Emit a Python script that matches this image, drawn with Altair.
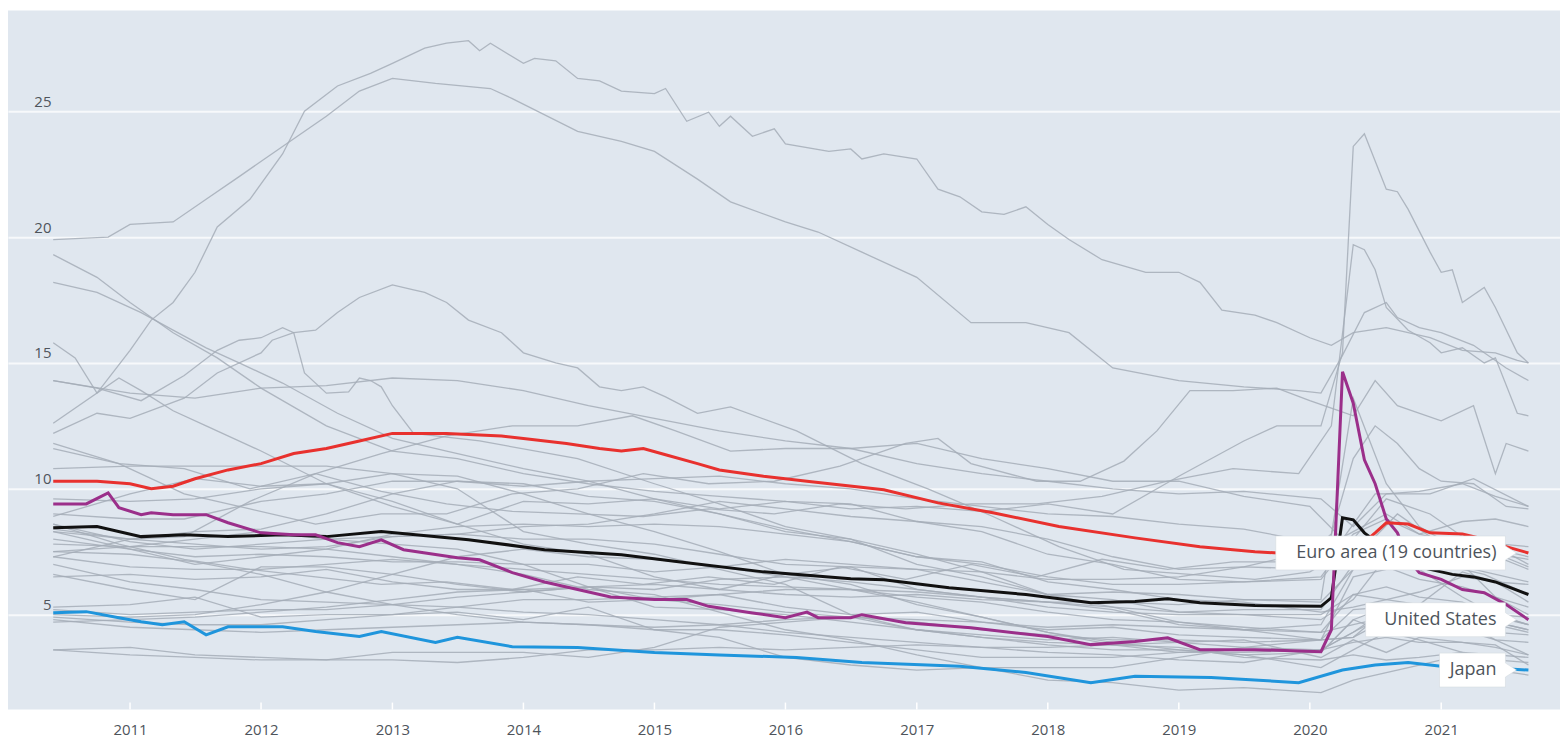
import altair as alt
import pandas as pd

# ---------------- data ----------------
YEARS = list(range(2011, 2022))
Y_TICKS = [5, 10, 15, 20, 25]

EURO = [("2010-06", 10.3), ("2010-10", 10.3), ("2011-01", 10.2), ("2011-03", 10.0), ("2011-05", 10.1),
        ("2011-07", 10.4), ("2011-10", 10.75), ("2012-01", 11.0), ("2012-04", 11.4), ("2012-07", 11.6),
        ("2012-10", 11.9), ("2013-01", 12.2), ("2013-06", 12.2), ("2013-11", 12.1), ("2014-01", 12.0),
        ("2014-05", 11.8), ("2014-08", 11.6), ("2014-10", 11.5), ("2014-12", 11.6), ("2015-02", 11.35),
        ("2015-05", 11.0), ("2015-07", 10.75), ("2015-11", 10.5), ("2016-03", 10.3), ("2016-10", 9.96),
        ("2017-03", 9.44), ("2017-08", 9.05), ("2018-02", 8.5), ("2018-09", 8.05), ("2019-03", 7.7),
        ("2019-08", 7.5), ("2019-12", 7.4), ("2020-03", 7.3), ("2020-05", 7.5), ("2020-07", 8.25),
        ("2020-08", 8.65), ("2020-10", 8.6), ("2020-12", 8.25), ("2021-03", 8.2), ("2021-05", 8.0),
        ("2021-07", 7.7), ("2021-09", 7.45)]

OECD = [("2010-06", 8.45), ("2010-10", 8.5), ("2011-02", 8.1), ("2011-06", 8.17), ("2011-10", 8.1),
        ("2012-03", 8.17), ("2012-07", 8.1), ("2012-12", 8.3), ("2013-08", 7.98), ("2014-03", 7.58),
        ("2014-10", 7.38), ("2015-04", 7.06), ("2015-11", 6.7), ("2016-07", 6.43), ("2016-10", 6.39),
        ("2017-04", 6.07), ("2017-11", 5.8), ("2018-05", 5.47), ("2018-09", 5.52), ("2018-12", 5.63),
        ("2019-03", 5.47), ("2019-08", 5.36), ("2020-02", 5.33), ("2020-03", 5.67), ("2020-04", 8.85),
        ("2020-05", 8.77), ("2020-06", 8.25), ("2020-08", 7.6), ("2020-10", 7.0), ("2020-12", 6.8),
        ("2021-02", 6.6), ("2021-04", 6.5), ("2021-06", 6.3), ("2021-09", 5.8)]

JAPAN = [("2010-06", 5.08), ("2010-09", 5.12), ("2010-12", 4.88), ("2011-02", 4.72), ("2011-04", 4.6),
         ("2011-06", 4.72), ("2011-08", 4.2), ("2011-10", 4.52), ("2012-03", 4.52), ("2012-06", 4.33),
         ("2012-10", 4.13), ("2012-12", 4.33), ("2013-05", 3.9), ("2013-07", 4.1), ("2013-12", 3.73),
         ("2014-06", 3.7), ("2015-01", 3.5), ("2015-07", 3.4), ("2016-02", 3.3), ("2016-08", 3.1),
         ("2017-05", 2.95), ("2017-11", 2.7), ("2018-05", 2.3), ("2018-09", 2.55), ("2019-04", 2.5),
         ("2019-12", 2.3), ("2020-04", 2.8), ("2020-07", 3.0), ("2020-10", 3.1), ("2021-01", 2.95),
         ("2021-05", 2.9), ("2021-09", 2.8)]

USA = [("2010-06", 9.4), ("2010-09", 9.4), ("2010-11", 9.84), ("2010-12", 9.25), ("2011-02", 8.97),
       ("2011-03", 9.05), ("2011-05", 8.97), ("2011-08", 8.97), ("2011-10", 8.65), ("2012-01", 8.25),
       ("2012-04", 8.17), ("2012-06", 8.17), ("2012-08", 7.86), ("2012-10", 7.7), ("2012-12", 7.97),
       ("2013-02", 7.58), ("2013-07", 7.26), ("2013-09", 7.18), ("2013-12", 6.67), ("2014-03", 6.3),
       ("2014-09", 5.7), ("2015-01", 5.6), ("2015-04", 5.6), ("2015-06", 5.33), ("2015-10", 5.07),
       ("2016-01", 4.88), ("2016-03", 5.1), ("2016-04", 4.88), ("2016-07", 4.88), ("2016-08", 5.0),
       ("2016-12", 4.68), ("2017-06", 4.48), ("2018-01", 4.13), ("2018-05", 3.81), ("2018-09", 3.93),
       ("2018-12", 4.08), ("2019-03", 3.61), ("2019-08", 3.61), ("2020-02", 3.53), ("2020-03", 4.4),
       ("2020-04", 14.65), ("2020-05", 13.4), ("2020-06", 11.15), ("2020-07", 10.2), ("2020-08", 8.8),
       ("2020-09", 8.25), ("2020-10", 7.2), ("2020-11", 6.67), ("2021-01", 6.4), ("2021-03", 6.0),
       ("2021-05", 5.87), ("2021-07", 5.4), ("2021-09", 4.8)]

# grey background series with their own dates
G_SPAIN = [("2010-06", 19.9), ("2010-11", 20.0), ("2011-01", 20.5), ("2011-05", 20.6), ("2011-08", 21.5),
           ("2011-11", 22.4), ("2012-03", 23.6), ("2012-07", 24.8), ("2012-10", 25.8), ("2013-01", 26.3),
           ("2013-05", 26.1), ("2013-10", 25.9), ("2013-12", 25.5), ("2014-06", 24.2), ("2014-10", 23.8),
           ("2015-01", 23.4), ("2015-05", 22.3), ("2015-08", 21.4), ("2016-01", 20.6), ("2016-04", 20.2),
           ("2016-08", 19.4), ("2017-01", 18.4), ("2017-06", 16.6), ("2017-11", 16.6), ("2018-03", 16.2),
           ("2018-07", 14.8), ("2019-01", 14.3), ("2019-07", 14.05), ("2019-12", 13.9), ("2020-02", 13.8),
           ("2020-04", 15.3), ("2020-06", 17.0), ("2020-08", 17.4), ("2020-09", 16.8), ("2020-11", 16.4),
           ("2021-01", 16.2), ("2021-04", 15.7), ("2021-07", 14.8), ("2021-09", 14.3)]

G_GREECE = [("2010-06", 12.6), ("2010-10", 13.8), ("2011-01", 15.5), ("2011-03", 16.7), ("2011-05", 17.4),
            ("2011-07", 18.6), ("2011-09", 20.4), ("2011-12", 21.5), ("2012-03", 23.3), ("2012-05", 25.0),
            ("2012-08", 26.0), ("2012-11", 26.5), ("2013-01", 26.9), ("2013-04", 27.5), ("2013-06", 27.7),
            ("2013-08", 27.8), ("2013-09", 27.4), ("2013-10", 27.7), ("2014-01", 26.9), ("2014-02", 27.1),
            ("2014-04", 27.0), ("2014-06", 26.3), ("2014-08", 26.2), ("2014-10", 25.8), ("2015-01", 25.7),
            ("2015-02", 25.9), ("2015-04", 24.6), ("2015-06", 24.96), ("2015-07", 24.4), ("2015-08", 24.8),
            ("2015-10", 24.0), ("2015-12", 24.3), ("2016-01", 23.7), ("2016-05", 23.4), ("2016-07", 23.5),
            ("2016-08", 23.1), ("2016-10", 23.3), ("2017-01", 23.1), ("2017-03", 21.9), ("2017-05", 21.6),
            ("2017-07", 21.0), ("2017-09", 20.9), ("2017-11", 21.2), ("2018-01", 20.5), ("2018-03", 19.9),
            ("2018-06", 19.1), ("2018-10", 18.6), ("2019-01", 18.6), ("2019-03", 18.2), ("2019-05", 17.1),
            ("2019-08", 16.9), ("2019-10", 16.6), ("2020-01", 16.0), ("2020-03", 15.7), ("2020-05", 16.2),
            ("2020-08", 16.4), ("2020-12", 16.0), ("2021-03", 15.5), ("2021-06", 15.4), ("2021-08", 15.1),
            ("2021-09", 15.0)]

G_A = [("2010-06", 18.2), ("2010-10", 17.8), ("2011-02", 17.0), ("2011-05", 16.3), ("2011-08", 15.6),
       ("2011-11", 15.0), ("2012-03", 14.2), ("2012-08", 13.0), ("2013-01", 12.0), ("2013-06", 11.5),
       ("2014-01", 10.8), ("2014-07", 10.3), ("2015-01", 9.6), ("2015-07", 9.0), ("2016-01", 8.4),
       ("2016-07", 7.9), ("2017-01", 7.3), ("2017-07", 7.0), ("2018-01", 6.5), ("2018-07", 6.2),
       ("2019-01", 6.2), ("2019-07", 6.3), ("2020-02", 6.4), ("2020-05", 8.0), ("2020-08", 9.6),
       ("2020-12", 9.0), ("2021-04", 7.8), ("2021-09", 6.9)]

G_B = [("2010-06", 12.2), ("2010-10", 13.0), ("2011-01", 12.8), ("2011-06", 13.6), ("2011-09", 14.6),
       ("2012-01", 15.4), ("2012-02", 15.9), ("2012-04", 16.2), ("2012-06", 16.3), ("2012-08", 17.0),
       ("2012-10", 17.6), ("2013-01", 18.1), ("2013-03", 17.9), ("2013-04", 17.8), ("2013-06", 17.4),
       ("2013-08", 16.7), ("2013-11", 16.2), ("2014-01", 15.4), ("2014-04", 15.0), ("2014-06", 14.8),
       ("2014-08", 14.05), ("2014-10", 13.9), ("2014-12", 14.05), ("2015-02", 13.65), ("2015-05", 13.0),
       ("2015-08", 13.25), ("2016-02", 12.3), ("2016-08", 11.0), ("2017-02", 10.0), ("2017-08", 8.9),
       ("2018-02", 7.7), ("2018-08", 6.8), ("2019-02", 6.6), ("2019-08", 6.4), ("2020-01", 6.7),
       ("2020-06", 7.9), ("2020-10", 7.5), ("2021-02", 7.0), ("2021-09", 6.3)]

G_C = [("2010-06", 14.3), ("2010-10", 14.0), ("2011-02", 13.5), ("2011-06", 14.5), ("2011-09", 15.5),
       ("2011-11", 15.9), ("2012-01", 16.0), ("2012-03", 16.4), ("2012-04", 16.2), ("2012-05", 14.6),
       ("2012-07", 13.8), ("2012-09", 13.85), ("2012-10", 14.4), ("2012-11", 14.3), ("2012-12", 14.05),
       ("2013-01", 13.3), ("2013-03", 12.2), ("2013-09", 11.9), ("2014-06", 11.2), ("2015-01", 10.2),
       ("2015-07", 9.4), ("2016-01", 8.5), ("2016-07", 8.0), ("2017-01", 7.0), ("2017-07", 6.5),
       ("2018-01", 5.8), ("2018-07", 5.6), ("2019-01", 5.1), ("2019-07", 5.0), ("2020-02", 4.8),
       ("2020-05", 5.6), ("2020-08", 7.3), ("2020-12", 7.0), ("2021-05", 7.5), ("2021-09", 6.8)]

G_D = [("2010-06", 15.8), ("2010-08", 15.2), ("2010-10", 13.8), ("2010-12", 14.4), ("2011-02", 13.9),
       ("2011-05", 13.1), ("2011-08", 12.5), ("2012-01", 11.5), ("2012-07", 10.2), ("2013-01", 9.5),
       ("2013-07", 8.6), ("2014-01", 7.8), ("2014-07", 7.4), ("2015-01", 6.5), ("2015-07", 6.0),
       ("2016-01", 6.6), ("2016-07", 6.9), ("2017-01", 6.0), ("2017-07", 5.7), ("2018-01", 5.5),
       ("2018-07", 5.2), ("2019-01", 4.6), ("2019-07", 4.4), ("2020-02", 4.6), ("2020-05", 6.8),
       ("2020-09", 7.8), ("2021-01", 7.0), ("2021-05", 6.6), ("2021-09", 5.8)]

G_E = [("2010-06", 19.3), ("2010-10", 18.4), ("2011-01", 17.4), ("2011-05", 16.2), ("2011-09", 15.2),
       ("2012-01", 14.0), ("2012-07", 12.5), ("2013-01", 11.5), ("2013-07", 11.2), ("2014-01", 10.6),
       ("2014-07", 10.2), ("2015-01", 9.9), ("2015-07", 9.7), ("2016-01", 9.5), ("2016-07", 9.4),
       ("2017-01", 8.7), ("2017-07", 8.3), ("2018-01", 7.4), ("2018-07", 7.0), ("2019-01", 6.4),
       ("2019-07", 6.3), ("2020-02", 6.5), ("2020-05", 8.2), ("2020-08", 8.8), ("2020-11", 8.2),
       ("2021-03", 7.8), ("2021-06", 7.4), ("2021-09", 7.2)]

G_F = [("2010-06", 8.3), ("2011-01", 8.0), ("2011-06", 8.1), ("2011-12", 9.5), ("2012-06", 10.6),
       ("2012-12", 11.4), ("2013-06", 12.1), ("2013-12", 12.5), ("2014-06", 12.5), ("2014-11", 12.9),
       ("2015-03", 12.3), ("2015-08", 11.5), ("2016-01", 11.6), ("2016-07", 11.6), ("2017-01", 11.8),
       ("2017-07", 11.2), ("2018-01", 10.8), ("2018-07", 10.3), ("2019-01", 10.3), ("2019-07", 9.7),
       ("2020-01", 9.3), ("2020-04", 8.0), ("2020-07", 9.8), ("2020-12", 9.8), ("2021-04", 10.4),
       ("2021-09", 9.3)]

G_G = [("2010-06", 9.0), ("2011-01", 8.8), ("2011-06", 8.8), ("2012-01", 9.5), ("2012-07", 9.8),
       ("2013-01", 10.3), ("2013-07", 10.3), ("2014-01", 10.1), ("2014-07", 10.3), ("2015-01", 10.4),
       ("2015-07", 10.5), ("2016-01", 10.2), ("2016-07", 10.0), ("2017-01", 9.6), ("2017-07", 9.3),
       ("2018-01", 9.0), ("2018-07", 8.9), ("2019-01", 8.6), ("2019-07", 8.4), ("2020-01", 7.9),
       ("2020-05", 7.2), ("2020-09", 9.0), ("2020-12", 8.1), ("2021-04", 7.9), ("2021-09", 7.7)]

G_H = [("2010-06", 11.6), ("2010-12", 11.0), ("2011-06", 10.8), ("2011-12", 10.0), ("2012-06", 10.6),
       ("2012-12", 9.9), ("2013-06", 9.4), ("2013-12", 9.1), ("2014-06", 9.0), ("2014-12", 8.9),
       ("2015-06", 9.2), ("2015-12", 9.0), ("2016-06", 9.4), ("2016-12", 9.2), ("2017-06", 9.4),
       ("2017-12", 9.4), ("2018-06", 9.7), ("2018-12", 10.3), ("2019-06", 10.8), ("2019-12", 10.6),
       ("2020-03", 12.5), ("2020-05", 19.7), ("2020-06", 19.5), ("2020-07", 18.7), ("2020-08", 17.2),
       ("2020-10", 16.3), ("2020-12", 15.8), ("2021-01", 15.4), ("2021-03", 15.6), ("2021-05", 15.0),
       ("2021-06", 15.2), ("2021-08", 13.0), ("2021-09", 12.9)]

G_I = [("2010-06", 8.9), ("2011-01", 9.8), ("2011-07", 10.4), ("2012-01", 10.1), ("2012-07", 10.2),
       ("2013-01", 9.3), ("2013-07", 8.6), ("2014-01", 9.5), ("2014-07", 9.4), ("2015-01", 9.6),
       ("2015-07", 9.2), ("2016-01", 9.5), ("2016-07", 9.2), ("2017-01", 9.3), ("2017-07", 9.1),
       ("2018-01", 9.4), ("2018-07", 9.0), ("2019-01", 10.5), ("2019-07", 11.9), ("2019-10", 12.5),
       ("2020-02", 12.5), ("2020-04", 15.4), ("2020-05", 23.6), ("2020-06", 24.1), ("2020-08", 21.9),
       ("2020-09", 21.8), ("2020-10", 21.1), ("2020-12", 19.4), ("2021-01", 18.6), ("2021-02", 18.7),
       ("2021-03", 17.4), ("2021-05", 18.0), ("2021-06", 17.2), ("2021-08", 15.4), ("2021-09", 15.0)]

G_J = [("2010-06", 11.8), ("2010-12", 11.0), ("2011-06", 9.8), ("2011-12", 9.2), ("2012-06", 8.6),
       ("2012-12", 9.0), ("2013-06", 9.0), ("2013-12", 9.8), ("2014-06", 10.0), ("2014-12", 10.6),
       ("2015-06", 10.2), ("2015-12", 10.3), ("2016-06", 10.9), ("2016-12", 11.8), ("2017-03", 12.0),
       ("2017-06", 11.0), ("2017-12", 10.3), ("2018-04", 10.3), ("2018-08", 11.1), ("2018-11", 12.3),
       ("2019-02", 13.9), ("2019-06", 13.9), ("2019-10", 14.0), ("2020-01", 13.5), ("2020-03", 13.2),
       ("2020-05", 12.9), ("2020-07", 14.3), ("2020-09", 13.3), ("2021-01", 12.7), ("2021-04", 13.3),
       ("2021-06", 10.6), ("2021-07", 11.8), ("2021-09", 11.5)]

G_K = [("2010-06", 8.6), ("2010-12", 7.8), ("2011-06", 7.2), ("2011-12", 6.8), ("2012-06", 6.5),
       ("2012-12", 6.2), ("2013-06", 6.3), ("2013-12", 6.0), ("2014-06", 6.5), ("2014-12", 6.2),
       ("2015-06", 6.5), ("2015-12", 6.2), ("2016-06", 6.9), ("2016-12", 6.4), ("2017-06", 7.0),
       ("2017-12", 6.5), ("2018-06", 7.2), ("2018-12", 6.8), ("2019-06", 7.1), ("2019-12", 7.1),
       ("2020-03", 8.2), ("2020-05", 11.2), ("2020-07", 12.5), ("2020-09", 11.8), ("2020-11", 10.8),
       ("2021-01", 10.3), ("2021-04", 10.2), ("2021-07", 9.3), ("2021-09", 9.2)]

# grey series sharing one date grid
MID_DATES = ["2010-06", "2011-01", "2011-07", "2012-01", "2012-07", "2013-01", "2013-07", "2014-01",
             "2014-07", "2015-01", "2015-07", "2016-01", "2016-07", "2017-01", "2017-07", "2018-01",
             "2018-07", "2019-01", "2019-07", "2020-02", "2020-05", "2020-08", "2020-11", "2021-03",
             "2021-06", "2021-09"]
M01 = [10.8, 10.9, 10.9, 10.9, 10.9, 10.6, 10.0, 8.3, 7.8, 7.4, 6.8, 6.2, 5.0, 4.4, 4.1, 3.8, 3.6, 3.6, 3.4, 3.5, 4.8, 4.3, 4.3, 4.4, 4.0, 3.9]
M02 = [9.6, 9.5, 9.6, 10.0, 10.2, 10.6, 10.5, 9.8, 9.0, 8.3, 7.5, 6.6, 6.2, 5.4, 4.9, 4.3, 3.8, 3.7, 3.3, 3.2, 3.4, 3.2, 3.3, 3.5, 3.4, 3.3]
M03 = [8.6, 7.9, 7.6, 7.8, 8.0, 8.1, 8.2, 8.0, 8.0, 7.8, 7.4, 7.0, 6.9, 6.8, 6.7, 6.4, 6.4, 6.5, 6.9, 7.6, 8.3, 9.0, 8.2, 8.7, 8.8, 8.5]
M04 = [8.4, 8.0, 7.8, 7.6, 7.7, 8.1, 8.2, 8.5, 8.6, 9.0, 9.5, 9.2, 8.9, 8.7, 8.5, 8.0, 7.3, 6.8, 6.9, 6.8, 7.6, 8.1, 8.0, 7.7, 7.6, 7.3]
M05 = [8.0, 7.6, 7.3, 7.4, 7.3, 7.1, 7.1, 7.0, 7.0, 6.7, 6.9, 7.2, 7.0, 6.8, 6.3, 5.8, 5.9, 5.8, 5.6, 5.6, 13.6, 10.2, 8.5, 7.5, 7.7, 7.0]
M06 = [7.8, 7.7, 8.0, 8.3, 8.0, 7.8, 7.6, 7.0, 6.1, 5.6, 5.4, 5.1, 4.9, 4.7, 4.4, 4.2, 4.0, 4.0, 3.9, 4.0, 4.1, 4.8, 5.1, 4.9, 4.7, 4.4]
M07 = [8.3, 7.6, 7.0, 7.3, 7.6, 8.2, 8.5, 8.6, 8.5, 8.6, 8.5, 8.2, 7.9, 7.3, 7.1, 6.3, 6.0, 5.6, 5.5, 5.1, 5.3, 5.6, 5.9, 6.5, 6.3, 6.2]
M08 = [7.3, 8.0, 8.3, 8.4, 9.0, 9.8, 10.3, 10.2, 9.7, 9.5, 9.0, 8.3, 8.0, 7.4, 6.7, 5.8, 5.3, 4.7, 4.4, 4.0, 5.2, 5.3, 5.1, 4.9, 4.6, 4.3]
M09 = [7.5, 7.7, 7.7, 7.7, 7.6, 7.3, 7.0, 6.8, 6.6, 6.4, 6.2, 6.1, 6.0, 5.9, 5.7, 5.3, 5.1, 5.0, 5.0, 5.0, 5.8, 6.1, 5.7, 5.5, 5.0, 4.6]
M10 = [5.0, 4.9, 5.0, 5.4, 5.9, 6.6, 7.3, 7.6, 7.3, 7.2, 6.9, 6.5, 6.0, 5.5, 4.9, 4.3, 3.9, 3.6, 3.4, 2.9, 3.6, 4.3, 4.0, 3.5, 3.2, 3.1]
M11 = [7.0, 6.3, 6.0, 5.6, 5.5, 5.4, 5.3, 5.1, 5.0, 4.8, 4.6, 4.3, 4.1, 3.9, 3.7, 3.5, 3.4, 3.2, 3.1, 3.6, 3.9, 4.1, 3.9, 3.9, 3.7, 3.4]
M12 = [5.2, 5.0, 5.1, 5.2, 5.2, 5.4, 5.7, 5.9, 6.1, 6.2, 6.0, 5.8, 5.7, 5.8, 5.6, 5.5, 5.3, 5.1, 5.2, 5.2, 7.0, 6.8, 6.8, 5.7, 5.0, 4.6]
M13 = [7.3, 6.9, 6.8, 6.8, 7.0, 7.2, 7.0, 6.6, 6.0, 5.8, 5.1, 4.4, 4.0, 3.4, 2.9, 2.4, 2.3, 2.0, 2.1, 1.9, 2.4, 2.7, 3.0, 3.4, 2.8, 2.6]
M14 = [6.5, 6.6, 6.4, 6.5, 6.8, 6.3, 6.0, 6.0, 5.5, 5.6, 5.8, 5.3, 5.0, 5.1, 4.7, 4.4, 4.5, 4.2, 4.1, 4.0, 4.1, 5.2, 4.9, 4.7, 4.0, 3.4]
M15 = [6.6, 6.0, 5.6, 6.9, 6.9, 6.6, 6.2, 5.9, 6.1, 5.3, 5.2, 5.0, 4.7, 4.4, 4.2, 4.0, 4.1, 3.9, 3.7, 3.6, 4.3, 5.0, 4.8, 5.2, 5.0, 4.9]
M16 = [7.5, 7.4, 7.1, 6.6, 5.9, 5.4, 5.0, 4.7, 4.6, 4.4, 4.1, 3.3, 3.0, 2.8, 2.9, 2.9, 2.9, 3.3, 3.7, 4.0, 6.5, 6.8, 7.3, 7.0, 5.7, 5.0]
M17 = [4.9, 4.7, 4.6, 4.6, 4.8, 5.0, 5.3, 5.6, 5.6, 5.7, 5.8, 6.0, 6.0, 5.7, 5.5, 5.1, 4.8, 4.7, 4.5, 4.3, 5.8, 5.6, 5.4, 6.7, 6.3, 5.5]
M18 = [4.7, 4.8, 4.9, 5.1, 5.3, 5.6, 5.9, 6.0, 6.1, 6.0, 6.4, 6.5, 6.3, 6.0, 5.7, 5.5, 5.5, 5.4, 5.6, 5.5, 6.8, 6.9, 6.4, 6.1, 5.7, 5.3]
M19 = [5.3, 5.4, 5.7, 4.9, 5.0, 5.0, 5.1, 4.8, 5.3, 4.4, 4.4, 4.2, 3.9, 3.6, 3.3, 3.3, 3.3, 3.5, 3.5, 3.6, 4.3, 5.2, 4.7, 4.3, 4.3, 4.2]
M20 = [3.6, 3.7, 3.4, 3.3, 3.2, 3.2, 3.1, 3.3, 3.6, 3.6, 3.7, 3.6, 3.7, 3.8, 3.7, 3.7, 3.8, 3.9, 4.0, 3.3, 4.0, 3.5, 4.1, 3.9, 3.8, 3.0]
M21 = [3.6, 3.4, 3.3, 3.2, 3.2, 3.5, 3.5, 3.5, 3.3, 3.7, 4.5, 4.7, 4.9, 4.4, 4.1, 3.9, 3.8, 3.5, 3.6, 3.5, 4.8, 5.3, 5.2, 4.9, 4.7, 4.4]
M22 = [4.8, 4.5, 4.4, 4.3, 4.4, 4.5, 4.6, 4.7, 4.6, 4.5, 4.6, 4.8, 4.9, 4.8, 4.7, 4.5, 4.6, 4.5, 4.4, 4.3, 4.6, 4.9, 5.2, 5.4, 4.9, 4.6]
M23 = [14.3, 13.8, 13.6, 14.0, 14.1, 14.4, 14.3, 13.9, 13.3, 12.8, 12.3, 11.9, 11.6, 11.0, 10.6, 10.3, 10.0, 9.8, 9.9, 9.6, 8.5, 9.8, 9.9, 10.2, 9.7, 9.3]

# ---------------- build tables ----------------
def rows(name, pairs):
    return [{"series": name, "date": f"{d}-01", "value": v} for d, v in pairs]

grey_rows = []
for i, s in enumerate([G_SPAIN, G_GREECE, G_A, G_B, G_C, G_D, G_E, G_F, G_G, G_H, G_I, G_J, G_K]):
    grey_rows += rows(f"g{i:02d}", s)
for i, vals in enumerate([M01, M02, M03, M04, M05, M06, M07, M08, M09, M10, M11, M12,
                          M13, M14, M15, M16, M17, M18, M19, M20, M21, M22, M23]):
    grey_rows += rows(f"m{i:02d}", list(zip(MID_DATES, vals)))
grey_df = pd.DataFrame(grey_rows)

ticks_df = pd.DataFrame({"date": [f"{y}-01-01" for y in YEARS]})

W, H = 1554, 700
X_DOMAIN = [alt.DateTime(year=2010, month=1, date=26), alt.DateTime(year=2021, month=11, date=28)]
FONT = "Open Sans"
TEXT = "#4e545b"

x_enc = alt.X("date:T", scale=alt.Scale(domain=X_DOMAIN),
              axis=alt.Axis(values=[alt.DateTime(year=y, month=1, date=1) for y in YEARS],
                            format="%Y", grid=False, domain=False, ticks=False,
                            labelPadding=13, labelFontSize=15, labelColor=TEXT,
                            labelFont=FONT, title=None))
y_enc = alt.Y("value:Q", scale=alt.Scale(domain=[1.23, 29.0], nice=False, zero=False),
              axis=alt.Axis(values=Y_TICKS, grid=True, gridColor="#f7f9fb", gridWidth=2,
                            domain=False, ticks=False, tickSize=0, labelAlign="right",
                            labelPadding=-43, labelBaseline="bottom", labelOffset=-2,
                            labelFontSize=15, labelColor=TEXT, labelFont=FONT, title=None))

grey = alt.Chart(grey_df).mark_line(strokeWidth=1.3, color="#a4adb7", opacity=0.85).encode(
    x=x_enc, y=y_enc, detail="series:N")

tick_marks = alt.Chart(ticks_df).mark_rule(color="white", strokeWidth=1.5).encode(
    x=alt.X("date:T"), y=alt.value(H - 7), y2=alt.value(H))

HIGHLIGHTS = [
    ("Japan", JAPAN, "#1f95dc", 66),
    ("OECD", OECD, "#111111", 0),
    ("United States", USA, "#9b2f8a", 140),
    ("Euro area (19 countries)", EURO, "#e8312e", 230),
]

layers = [grey, tick_marks]
for name, data, color, _ in HIGHLIGHTS:
    df = pd.DataFrame(rows(name, data))
    layers.append(alt.Chart(df).mark_line(strokeWidth=3, color=color).encode(x=x_enc, y=y_enc))

for name, data, color, box_w in HIGHLIGHTS:
    if box_w == 0:
        continue
    d, v = data[-1]
    end_df = pd.DataFrame([{"label": name, "date": f"{d}-01", "value": v}])
    left = -(23 + box_w)
    path = (f"M {left} -17 L -23 -17 L -23 -7 L -12 0 L -23 7 L -23 17 L {left} 17 Z")
    box = alt.Chart(end_df).mark_point(shape=path, size=4, filled=True, fill="white",
                                       stroke="#d5dbe1", strokeWidth=0.6, opacity=1).encode(
        x=x_enc, y=y_enc)
    txt = alt.Chart(end_df).mark_text(align="right", baseline="middle", dx=-32, fontSize=18,
                                      font=FONT, color=TEXT).encode(
        x=x_enc, y=y_enc, text="label:N")
    layers += [box, txt]

chart = alt.layer(*layers).properties(
    width=W, height=H,
    autosize=alt.AutoSizeParams(type="none"),
    padding={"left": 0, "top": 2, "right": 0, "bottom": 33},
    background="white",
).configure_view(fill="#e0e7ef", stroke=None)

chart.save("out.html", embed_options={"renderer": "svg", "actions": False})
